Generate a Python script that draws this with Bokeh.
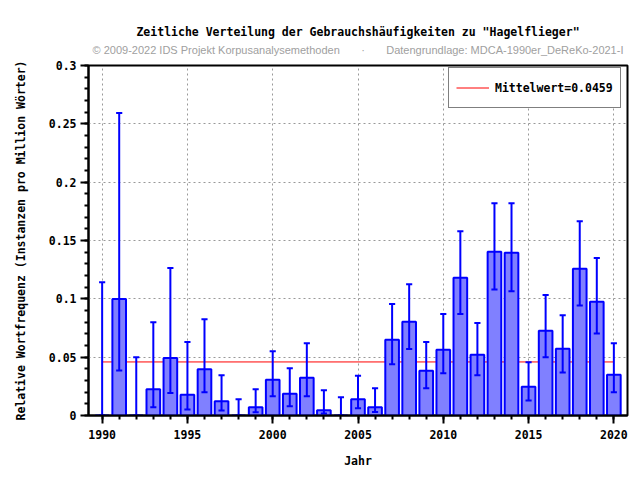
from bokeh.plotting import figure
from bokeh.models import (Range1d, FixedTicker, Legend, LegendItem, Title,
                          ColumnDataSource)
from bokeh.embed import file_html
from bokeh.resources import INLINE

# ---------------- data ----------------
years = list(range(1990, 2021))
freq = [0, 0.0998, 0, 0.0226, 0.0492, 0.0177, 0.0397, 0.0123, 0, 0.0071,
        0.0306, 0.0186, 0.0323, 0.0045, 0, 0.0140, 0.0071, 0.0649, 0.0803,
        0.0383, 0.0563, 0.1181, 0.0520, 0.1404, 0.1395, 0.0246, 0.0726,
        0.0572, 0.1258, 0.0975, 0.0349]
upper = [0.1143, 0.2593, 0.0500, 0.0800, 0.1264, 0.0629, 0.0826, 0.0346,
         0.0140, 0.0226, 0.0551, 0.0406, 0.0620, 0.0217, 0.0157, 0.0340,
         0.0234, 0.0955, 0.1126, 0.0629, 0.0869, 0.1580, 0.0792, 0.1820,
         0.1820, 0.0457, 0.1032, 0.0860, 0.1666, 0.1349, 0.0620]
lower = [0, 0.0386, 0, 0.0071, 0.0192, 0.0051, 0.0200, 0.0043, 0, 0.0028,
         0.0166, 0.0080, 0.0166, 0.0017, 0, 0.0063, 0.0029, 0.0440, 0.0569,
         0.0234, 0.0363, 0.0869, 0.0346, 0.1080, 0.1066, 0.0129, 0.0500,
         0.0369, 0.0943, 0.0703, 0.0200]
mean_value = 0.0459
mean_label = "Mittelwert=0.0459"

x_ticks = [1990, 1995, 2000, 2005, 2010, 2015, 2020]
x_minor = list(range(1989, 2022))
y_ticks = [0, 0.05, 0.1, 0.15, 0.2, 0.25, 0.3]
y_tick_labels = ["0", "0.05", "0.1", "0.15", "0.2", "0.25", "0.3"]
y_minor = [i / 100 for i in range(0, 31)]

title_text = 'Zeitliche Verteilung der Gebrauchshäufigkeiten zu "Hagelflieger"'
sub_left = "© 2009-2022 IDS Projekt Korpusanalysemethoden"
sub_dot = "·"
sub_right = "Datengrundlage: MDCA-1990er_DeReKo-2021-I"
x_label = "Jahr"
y_label = "Relative Wortfrequenz (Instanzen pro Million Wörter)"

# ---------------- layout ----------------
W, H = 640, 480
L, R, T, B = 88, 13, 65, 65
FONT = "DejaVu Sans Mono"
FS = "11.5px"

p = figure(width=W, height=H, output_backend="svg", toolbar_location=None,
           x_range=Range1d(1989.2, 2020.8), y_range=Range1d(0, 0.3),
           min_border_left=L, min_border_right=R, min_border_top=T,
           min_border_bottom=B, background_fill_color="white",
           border_fill_color="white", title=None)
p.outline_line_color = "black"
p.outline_line_width = 2

for ax in (p.xaxis[0], p.yaxis[0]):
    ax.axis_line_width = 2
    ax.axis_line_color = "black"
    ax.major_tick_line_width = 2
    ax.minor_tick_line_width = 2
    ax.major_tick_in = 0
    ax.minor_tick_in = 0
    ax.major_tick_out = 8
    ax.minor_tick_out = 4
    ax.major_label_text_font = FONT
    ax.major_label_text_font_style = "bold"
    ax.major_label_text_font_size = FS
    ax.major_label_text_color = "black"
    ax.axis_label_text_font = FONT
    ax.axis_label_text_font_style = "bold"
    ax.axis_label_text_font_size = FS
    ax.axis_label_text_color = "black"

p.xaxis[0].ticker = FixedTicker(ticks=x_ticks, minor_ticks=x_minor)
p.yaxis[0].ticker = FixedTicker(ticks=y_ticks, minor_ticks=y_minor)
p.yaxis[0].major_label_overrides = {t: s for t, s in zip(y_ticks, y_tick_labels)}
p.xaxis[0].major_label_standoff = 6
p.yaxis[0].major_label_standoff = 4
p.xaxis[0].axis_label = x_label
p.yaxis[0].axis_label = y_label
p.xaxis[0].axis_label_standoff = 12
p.yaxis[0].axis_label_standoff = 18

for g in (p.xgrid[0], p.ygrid[0]):
    g.grid_line_color = "#999999"
    g.grid_line_dash = "2 3"
    g.grid_line_width = 1
p.xgrid[0].ticker = FixedTicker(ticks=x_ticks)
p.ygrid[0].ticker = FixedTicker(ticks=y_ticks)

# mean line (behind bars)
mean_r = p.line(x=[min(years), max(years)], y=[mean_value, mean_value],
                line_color="red", line_width=1)

src = ColumnDataSource(dict(x=years, top=freq, up=upper, lo=lower,
                            cl=[y - 0.18 for y in years],
                            cr=[y + 0.18 for y in years]))
p.vbar(x="x", top="top", width=0.8, bottom=0, source=src,
       fill_color="#8080ff", line_color="#0000ff", line_width=2)
p.segment(x0="x", y0="lo", x1="x", y1="up", source=src,
          line_color="#0000ff", line_width=2)
p.segment(x0="cl", y0="up", x1="cr", y1="up", source=src,
          line_color="#0000ff", line_width=2)
p.segment(x0="cl", y0="lo", x1="cr", y1="lo", source=src,
          line_color="#0000ff", line_width=2)

legend = Legend(items=[LegendItem(label=mean_label, renderers=[mean_r])],
                location=(360, 307), margin=0, padding=7,
                glyph_width=33, glyph_height=25, label_height=25,
                label_standoff=6, border_line_color="black",
                border_line_width=1, background_fill_color="white",
                background_fill_alpha=1, label_text_font=FONT,
                label_text_font_style="bold", label_text_font_size=FS,
                label_text_color="black")
p.add_layout(legend)

# titles (first added = closest to the frame)
gap = "\u00a0" * 7
subtitle = Title(text=sub_left + gap + sub_dot + gap + sub_right,
                 align="center", text_font="Liberation Sans",
                 text_font_size="11px", text_font_style="normal",
                 text_color="#a0a0a0", standoff=19)
main_title = Title(text=title_text, align="center", text_font=FONT,
                   text_font_size=FS, text_font_style="bold",
                   text_color="black", standoff=-12)
p.add_layout(subtitle, "above")
p.add_layout(main_title, "above")

open("out.html", "w").write(file_html(p, INLINE))
